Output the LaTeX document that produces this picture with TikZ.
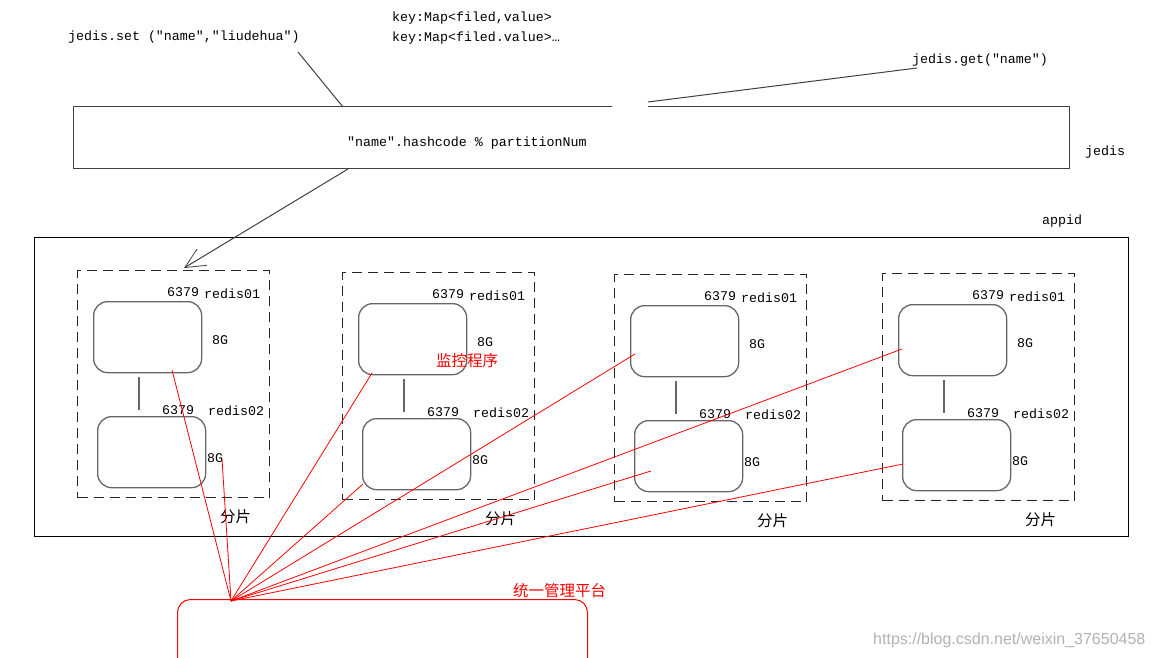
\documentclass[tikz,border=0pt]{standalone}
\usepackage{fontspec}
\setmainfont{Liberation Serif}
\newfontfamily\monof{Liberation Mono}
\newfontfamily\cjk{Noto Sans CJK SC}
\newfontfamily\wmf{Liberation Sans}
\usetikzlibrary{arrows.meta}
\begin{document}
\begin{tikzpicture}[x=1pt,y=-1pt,
  mono/.style={font=\monof\fontsize{13.3}{15}\selectfont, inner sep=0, anchor=west},
  cn/.style={font=\cjk\fontsize{15.5}{17}\selectfont, inner sep=0, anchor=west},
  redisbox/.style={draw=black!60, line width=1.3pt, rounded corners=14pt, minimum width=108pt, minimum height=71pt, inner sep=0, anchor=north west},
  shard/.style={draw=black!85, line width=1pt, dash pattern=on 10pt off 6pt, minimum width=192pt, minimum height=227pt, inner sep=0, anchor=north west},
  redline/.style={draw=red, line width=0.8pt},
  plain/.style={line width=1pt, draw=black!75}
]
\useasboundingbox (0,0) rectangle (1157,658);
\fill[white] (0,0) rectangle (1157,658);

% top labels
\node[mono] (setlbl) at (68,37) {jedis.set ("name","liudehua")};
\node[mono] (key1) at (392,18) {key:Map<filed,value>};
\node[mono] (key2) at (392,38) {key:Map<filed.value>…};
\node[mono] (getlbl) at (912,60) {jedis.get("name")};

% jedis box (top edge has a gap)
\node[minimum width=996pt, minimum height=61pt, inner sep=0, anchor=north west] (jb) at (73,107) {};
\draw[plain] ([xshift=539pt]jb.north west) -- (jb.north west) -- (jb.south west) -- (jb.south east) -- (jb.north east) -- ([xshift=575pt]jb.north west);
\node[mono] (hash) at (347,143) {"name".hashcode \% partitionNum};
\node[mono] (jedislbl) at (1085,152) {jedis};

\coordinate (setstart) at (298,52);
\coordinate (setend) at (343,107);
\draw[plain] (setstart) -- (setend);
\coordinate (getstart) at (648,102);
\coordinate (getend) at (917,68);
\draw[plain] (getstart) -- (getend);

% appid box
\node[draw=black, line width=1pt, minimum width=1094pt, minimum height=299pt, inner sep=0, anchor=north west] (appid) at (34,237) {};
\node[mono] (appidlbl) at (1042,221) {appid};

% shards
\foreach \i/\L/\T in {1/77/270,2/342/272,3/614/274,4/882/273}{
  \node[shard] (s\i) at (\L,\T) {};
  \node[redisbox] (a\i) at (\L+16,\T+31) {};
  \node[redisbox] (b\i) at (\L+20,\T+146) {};
  \draw[line width=1.3pt, draw=black!60] ([shift={(46,4)}]a\i.south west) -- ([shift={(42,-6)}]b\i.north west);
  \node[mono] (pa\i) at (\L+90,\T+22) {6379};
  \node[mono] (na\i) at (\L+127,\T+24) {redis01};
  \node[mono] (ga\i) at (\L+135,\T+70) {8G};
  \node[mono] (pb\i) at (\L+85,\T+140) {6379};
  \node[mono] (nb\i) at (\L+131,\T+141) {redis02};
  \node[mono] (gb\i) at (\L+130,\T+188) {8G};
  \node[cn] (fp\i) at (\L+143,\T+247) {分片};
}

% arrow from jedis to first shard
\coordinate (arrstart) at (348,169);
\coordinate (arrend) at (184,268);
\draw[plain, -{Straight Barb[length=20pt,width=19pt,line width=0.8pt]}] (arrstart) -- (arrend);

\node[cn, text=red] (monitor) at (436,361) {监控程序};

% management platform
\node[draw=red, line width=1pt, rounded corners=13pt, minimum width=410pt, minimum height=120pt, inner sep=0, anchor=north west] (plat) at (177,599) {};
\node[cn, text=red] (platlbl) at (513,591) {统一管理平台};
\coordinate (hub) at (231,601);

\coordinate (r1) at (172,370);
\coordinate (r2) at (222,459);
\coordinate (r3) at (372,373);
\coordinate (r4) at (363,484);
\coordinate (r5) at (635,354);
\coordinate (r6) at (651,471);
\coordinate (r7) at (902,349);
\coordinate (r8) at (903,464);
\foreach \r in {r1,r2,r3,r4,r5,r6,r7,r8}{
  \draw[redline] (\r) -- (hub);
}

\node[font=\wmf\fontsize{16}{18}\selectfont, text=black!30, inner sep=0, anchor=west] (wm) at (873,640) {https://blog.csdn.net/weixin\_37650458};
\end{tikzpicture}
\end{document}
